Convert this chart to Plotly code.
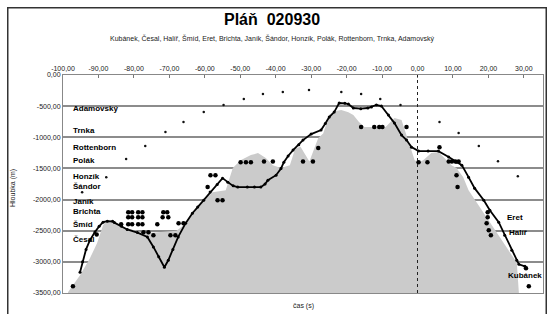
import plotly.graph_objects as go

# ---------------- data ----------------
x_ticks = [-100, -90, -80, -70, -60, -50, -40, -30, -20, -10, 0, 10, 20, 30]
x_tick_labels = ["-100,00", "-90,00", "-80,00", "-70,00", "-60,00", "-50,00", "-40,00",
                 "-30,00", "-20,00", "-10,00", "0,00", "10,00", "20,00", "30,00"]
y_ticks = [0, -500, -1000, -1500, -2000, -2500, -3000, -3500]
y_tick_labels = ["0,00", "-500,00", "-1000,00", "-1500,00", "-2000,00", "-2500,00", "-3000,00", "-3500,00"]

# gray profile (cross-section)
profile_x = [-98.6, -95.2, -92.4, -90.4, -88.7, -87.5, -84.5, -81.9, -76.8, -74.0, -71.0, -68.0,
             -65.4, -63.0, -60.3, -57.8, -54.1, -52.1, -49.9, -47.0, -45.0, -42.8, -40.8, -38.5,
             -36.0, -34.5, -33.0, -30.5, -28.0, -26.6, -24.9, -23.5, -21.5, -19.5, -18.1, -16.5,
             -15.0, -9.0, -6.5, -4.5, -3.6, -2.2, -0.8, 0.3, 1.6, 3.9, 5.9, 7.6, 9.6, 11.0, 12.9,
             14.4, 18.1, 21.0, 23.8, 26.6, 28.0, 28.6]
profile_y = [-3489, -3215, -2942, -2701, -2412, -2331, -2400, -2460, -2540, -2530, -2520, -2500,
             -2390, -2200, -2010, -1881, -1849, -1495, -1367, -1286, -1254, -1334, -1447, -1495,
             -1450, -1180, -1150, -1390, -1013, -940, -640, -580, -560, -600, -643, -755,
             -836, -836, -691, -723, -884, -1125, -1367, -1399, -1367, -1254, -1238, -1334, -1447,
             -1495, -1640, -1849, -2170, -2411, -2653, -2894, -3006, -3500]
base_y = [-3500] * len(profile_x)

# main dive line
line_x = [-95.2, -94.5, -93.5, -92.4, -91.0, -89.8, -88.7, -87.5, -86.0, -85.5, -83.5, -81.9,
          -79.0, -76.2, -74.5, -73.0, -71.4, -70.3, -69.0, -67.5, -65.4, -63.5, -62.0, -60.3,
          -58.5, -56.5, -55.0, -53.5, -52.0, -50.7, -48.0, -46.0, -44.2, -43.0, -42.2, -39.9,
          -38.5, -37.7, -36.5, -35.1, -33.5, -32.3, -30.0, -27.2, -26.0, -24.9, -23.5, -22.1,
          -20.5, -19.5, -18.1, -16.0, -14.0, -13.0, -11.6, -10.2, -8.2, -6.5, -4.5, -3.1, -1.7,
          0.3, 3.0, 5.9, 8.8, 11.0, 12.5, 14.4, 16.1, 18.7, 20.4, 22.9, 24.6, 26.6, 28.0, 28.6, 30.3]
line_y = [-3167, -3000, -2800, -2653, -2520, -2430, -2363, -2347, -2350, -2370, -2430, -2480,
          -2530, -2600, -2760, -2920, -3087, -2974, -2800, -2600, -2379, -2220, -2120, -2010,
          -1880, -1760, -1656, -1720, -1780, -1800, -1800, -1800, -1800, -1750, -1688, -1608,
          -1500, -1399, -1300, -1206, -1120, -1045, -949, -884, -780, -675, -595, -450,
          -455, -466, -530, -540, -530, -514, -482, -498, -643, -772, -965, -1045, -1158,
          -1222, -1222, -1222, -1318, -1399, -1447, -1640, -1817, -2010, -2170, -2363, -2572, -2814, -2974, -3039, -3071]

# large dots
dots_x = [-97.2, -90.5, -81.6, -80.5, -81.6, -80.5, -81.6, -80.5, -78.8, -77.6, -78.8, -77.6,
          -78.8, -77.6, -83.6, -77.3, -75.9, -73.4, -71.7, -70.6, -71.9, -70.3, -67.4, -66.0,
          -74.5, -69.7, -68.3, -58.4, -57.0, -59.2, -56.4, -55.0, -49.9, -48.4, -47.0, -43.3,
          -40.8, -32.3, -29.5, -28.0, -15.9, -12.2, -10.8, -9.9, -3.1, 0.3, 2.8, 6.2, 8.8, 9.7,
          10.7, 11.6, 11.0, 11.3, 19.8, 19.8, 19.5, 20.1, 20.7, 30.6, 31.4]
dots_y = [-3392, -2560, -2203, -2203, -2283, -2283, -2395, -2395, -2203, -2203, -2283, -2283,
          -2395, -2395, -2395, -2524, -2524, -2395, -2203, -2203, -2283, -2283, -2379, -2379,
          -2572, -2572, -2572, -1608, -1608, -1800, -2010, -2010, -1399, -1399, -1399, -1390,
          -1390, -1390, -1390, -1174, -836, -836, -836, -836, -836, -1399, -1399, -1160, -1390, -1390,
          -1390, -1390, -1608, -1800, -2203, -2283, -2379, -2492, -2572, -3103, -3392]

# small dots (arc)
small_x = [-94.6, -87.8, -82.2, -76.8, -71.1, -66.0, -60.3, -54.7, -49.0, -43.6, -38.0, -30.6,
           -21.5, -15.9, -10.5, -4.8, 6.2, 11.6, 17.3, 22.7, 28.3]
small_y = [-1881, -1640, -1350, -1141, -916, -755, -595, -482, -386, -305, -273, -241,
           -273, -305, -386, -482, -755, -932, -1141, -1383, -1624]

# names
left_names = ["Adamovský", "Trnka", "Rottenborn", "Polák", "Honzík", "Šándor", "Janík", "Brichta", "Šmíd", "Česal"]
left_names_y = [-545, -884, -1158, -1366, -1624, -1785, -2026, -2186, -2395, -2637]
right_names = ["Eret", "Halíř", "Kubánek"]
right_names_x = [24.6, 25.3, 24.9]
right_names_y = [-2283, -2524, -3215]

title = "Pláň  020930"
subtitle = "Kubánek, Česal, Halíř, Šmíd, Eret, Brichta, Janík, Šándor, Honzík, Polák, Rottenborn, Trnka, Adamovský"

FONT = "Liberation Sans, Arial, sans-serif"

fig = go.Figure()
fig.add_trace(go.Scatter(x=profile_x, y=base_y, mode="lines", line=dict(width=0), hoverinfo="skip", showlegend=False))
fig.add_trace(go.Scatter(x=profile_x, y=profile_y, mode="lines", line=dict(width=0),
                         fill="tonexty", fillcolor="#cbcbcb", showlegend=False))
fig.add_trace(go.Scatter(x=small_x, y=small_y, mode="markers",
                         marker=dict(size=2.5, color="#111"), showlegend=False))
fig.add_trace(go.Scatter(x=line_x, y=line_y, mode="lines+markers",
                         line=dict(color="black", width=1.8),
                         marker=dict(size=3, color="black"), showlegend=False))
fig.add_trace(go.Scatter(x=dots_x, y=dots_y, mode="markers",
                         marker=dict(size=4.5, color="black"), showlegend=False))

for n, yv in zip(left_names, left_names_y):
    fig.add_annotation(x=-97.8, y=yv, text="<b>%s</b>" % n, showarrow=False, xanchor="left",
                       yanchor="middle", font=dict(family=FONT, size=8, color="black"))
for n, xv, yv in zip(right_names, right_names_x, right_names_y):
    fig.add_annotation(x=xv, y=yv, text="<b>%s</b>" % n, showarrow=False, xanchor="left",
                       yanchor="middle", font=dict(family=FONT, size=8, color="black"))

# plot-area pixel geometry: x 63..543, y 75..293
def px(p):
    return (p - 63) / 480.0
def py(p):
    return (293 - p) / 218.0

fig.add_annotation(xref="paper", yref="paper", x=px(272), y=py(19), text="<b>%s</b>" % title,
                   showarrow=False, xanchor="center", yanchor="middle",
                   font=dict(family=FONT, size=16, color="black"))
fig.add_annotation(xref="paper", yref="paper", x=px(272), y=py(38), text=subtitle,
                   showarrow=False, xanchor="center", yanchor="middle",
                   font=dict(family=FONT, size=7, color="#222"))
fig.add_annotation(xref="paper", yref="paper", x=px(303), y=py(306), text="čas (s)",
                   showarrow=False, xanchor="center", yanchor="middle",
                   font=dict(family=FONT, size=7, color="#222"))
fig.add_annotation(xref="paper", yref="paper", x=px(13), y=py(188), text="Hloubka (m)",
                   textangle=-90, showarrow=False, xanchor="center", yanchor="middle",
                   font=dict(family=FONT, size=7, color="#222"))
# outer frame as an empty bordered annotation box
fig.add_annotation(xref="paper", yref="paper", x=px(7), y=py(7), text=" ",
                   showarrow=False, xanchor="left", yanchor="top", width=537, height=310,
                   borderpad=0, bordercolor="#333", borderwidth=1.5, bgcolor="rgba(0,0,0,0)")

# vertical dotted line at x = 0
fig.add_shape(type="line", xref="x", yref="paper", x0=0, x1=0, y0=0, y1=1,
              line=dict(color="#222", width=1, dash="dot"))

fig.update_xaxes(range=[-100, 35.4], side="top", tickvals=x_ticks, ticktext=x_tick_labels,
                 ticks="inside", ticklen=3, tickcolor="#777", showgrid=False, zeroline=False,
                 showline=True, linecolor="#888", linewidth=1, mirror=True, automargin=False,
                 tickfont=dict(family=FONT, size=7, color="#222"))
fig.update_yaxes(range=[-3500, 0], tickvals=y_ticks, ticktext=y_tick_labels,
                 showgrid=True, gridcolor="#8c8c8c", gridwidth=1.5, zeroline=False,
                 showline=True, linecolor="#888", linewidth=1, mirror=True, ticks="",
                 automargin=False, tickfont=dict(family=FONT, size=7, color="#222"))

fig.update_layout(width=548, height=314, margin=dict(l=63, r=5, t=75, b=21),
                  plot_bgcolor="white", paper_bgcolor="white", showlegend=False)

fig.write_html("out.html", config={"displayModeBar": False},
               post_script="document.body.style.margin='0';document.body.style.padding='0';")
